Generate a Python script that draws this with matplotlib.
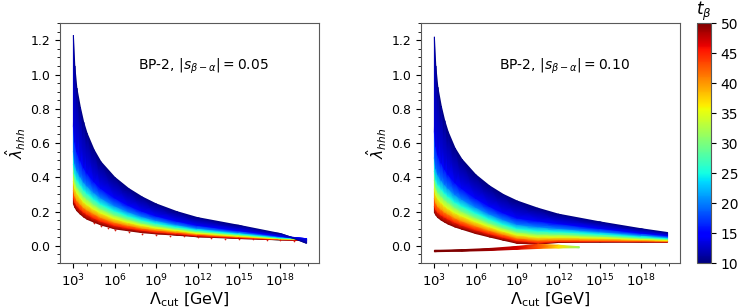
import numpy as np
import matplotlib
matplotlib.use("Agg")
import matplotlib.pyplot as plt
from matplotlib.ticker import FixedLocator, FuncFormatter, MultipleLocator, NullFormatter

# cut-off scale (GeV) where the bands were read
cut = [1e3, 1.26e3, 1.78e3, 3.16e3, 5.62e3, 1e4, 3.16e4, 1e5, 1e6, 1e7, 1e8, 1e9,
       3.16e10, 1e12, 1e15, 1e18, 8e19]
tb = [10, 15, 20, 25, 30, 35, 40, 45, 50]

# left panel, |s_{beta-alpha}| = 0.05 : lambda_hhh for each t_beta
a_t10 = [1.23, 1.05, 0.92, 0.81, 0.72, 0.655, 0.56, 0.49, 0.40, 0.335, 0.285, 0.245, 0.20, 0.165, 0.12, 0.072, 0.015]
a_t15 = [0.70, 0.605, 0.548, 0.498, 0.455, 0.425, 0.374, 0.335, 0.28, 0.236, 0.202, 0.175, 0.145, 0.12, 0.089, 0.057, 0.042]
a_t20 = [0.55, 0.48, 0.441, 0.404, 0.372, 0.35, 0.311, 0.28, 0.234, 0.199, 0.171, 0.149, 0.124, 0.103, 0.078, 0.052, 0.040]
a_t25 = [0.476, 0.42, 0.384, 0.354, 0.325, 0.305, 0.271, 0.243, 0.204, 0.174, 0.15, 0.131, 0.11, 0.092, 0.07, 0.048, 0.040]
a_t30 = [0.427, 0.378, 0.344, 0.316, 0.289, 0.273, 0.241, 0.216, 0.18, 0.155, 0.133, 0.117, 0.099, 0.083, 0.064, 0.045, 0.039]
a_t35 = [0.378, 0.336, 0.309, 0.282, 0.256, 0.24, 0.214, 0.192, 0.159, 0.137, 0.119, 0.105, 0.09, 0.075, 0.058, 0.042, 0.038]
a_t40 = [0.324, 0.291, 0.266, 0.244, 0.223, 0.21, 0.187, 0.166, 0.138, 0.12, 0.104, 0.093, 0.08, 0.068, 0.053, 0.04, 0.036]
a_t45 = [0.28, 0.254, 0.234, 0.213, 0.196, 0.183, 0.162, 0.144, 0.119, 0.104, 0.091, 0.081, 0.071, 0.06, 0.048, 0.037, 0.034]
a_t50 = [0.245, 0.225, 0.205, 0.185, 0.168, 0.155, 0.138, 0.122, 0.099, 0.088, 0.077, 0.07, 0.062, 0.053, 0.043, 0.035, 0.031]

# right panel, |s_{beta-alpha}| = 0.10
b_t10 = [1.22, 1.05, 0.925, 0.815, 0.73, 0.665, 0.57, 0.505, 0.415, 0.35, 0.30, 0.262, 0.22, 0.185, 0.14, 0.10, 0.078]
b_t15 = [0.667, 0.58, 0.53, 0.483, 0.446, 0.417, 0.368, 0.334, 0.278, 0.231, 0.193, 0.163, 0.146, 0.13, 0.102, 0.075, 0.06]
b_t20 = [0.513, 0.45, 0.416, 0.383, 0.357, 0.337, 0.299, 0.272, 0.226, 0.186, 0.153, 0.126, 0.112, 0.102, 0.083, 0.063, 0.051]
b_t25 = [0.436, 0.384, 0.355, 0.33, 0.307, 0.288, 0.255, 0.232, 0.192, 0.156, 0.126, 0.101, 0.088, 0.083, 0.069, 0.053, 0.044]
b_t30 = [0.385, 0.341, 0.313, 0.29, 0.268, 0.253, 0.223, 0.201, 0.165, 0.132, 0.105, 0.082, 0.069, 0.067, 0.057, 0.045, 0.039]
b_t35 = [0.333, 0.297, 0.275, 0.253, 0.233, 0.218, 0.193, 0.175, 0.141, 0.112, 0.086, 0.064, 0.052, 0.052, 0.047, 0.038, 0.034]
b_t40 = [0.277, 0.25, 0.23, 0.213, 0.197, 0.186, 0.163, 0.146, 0.117, 0.091, 0.068, 0.047, 0.035, 0.037, 0.035, 0.031, 0.028]
b_t45 = [0.231, 0.21, 0.195, 0.18, 0.168, 0.157, 0.137, 0.121, 0.094, 0.071, 0.05, 0.031, 0.02, 0.026, 0.026, 0.025, 0.024]
b_t50 = [0.195, 0.18, 0.165, 0.15, 0.138, 0.127, 0.11, 0.097, 0.072, 0.052, 0.033, 0.015, 0.01, 0.02, 0.022, 0.022, 0.022]

# second (negative) branch in the right panel
br_cut = [1e3, 1e5, 1e7, 1e9, 3.2e10, 1e12, 3.2e13]
br_top = [-0.026, -0.022, -0.015, -0.003, 0.010, 0.004, -0.005]
br_bot = [-0.034, -0.031, -0.027, -0.020, -0.015, -0.012, -0.011]
br_tb = [50, 50, 49, 47, 43, 37, 31]

# scattered red points under the left band
sp_cut = [3e4, 1e5, 3e5, 1e6, 1e7, 1e8, 1e9, 1e10, 1e11, 1e12, 1e13, 1e14, 1e15, 1e16, 1e17, 1e18, 1e19]
sp_lam = [0.132, 0.116, 0.104, 0.094, 0.083, 0.072, 0.065, 0.06, 0.055, 0.049, 0.046, 0.043, 0.04, 0.038, 0.036, 0.032, 0.03]

panels = [
    ([a_t10, a_t15, a_t20, a_t25, a_t30, a_t35, a_t40, a_t45, a_t50], "0.05"),
    ([b_t10, b_t15, b_t20, b_t25, b_t30, b_t35, b_t40, b_t45, b_t50], "0.10"),
]

fig = plt.figure(figsize=(7.42, 3.08), dpi=100)
ax1 = fig.add_axes([0.0809, 0.146, 0.349, 0.779])
ax2 = fig.add_axes([0.5674, 0.146, 0.349, 0.779])
cax = fig.add_axes([0.939, 0.146, 0.019, 0.779])

major = [1e3, 1e6, 1e9, 1e12, 1e15, 1e18]
minor = [10.0**k for k in range(2, 21) if k % 3 != 0]

for ax, (rows, s) in zip([ax1, ax2], panels):
    ax.set_xscale("log")
    # blue drawn last so it sits on top where bands cross
    Y = np.array(rows[::-1])
    C = np.array([[t] * len(cut) for t in tb[::-1]], dtype=float)
    X = np.array([cut] * len(tb))
    mesh = ax.pcolormesh(X, Y, C, shading="gouraud", cmap="jet", vmin=10, vmax=50)
    ax.set_xlim(10**2.03, 10**20.8)
    ax.set_ylim(-0.1, 1.3)
    ax.xaxis.set_major_locator(FixedLocator(major))
    ax.xaxis.set_minor_locator(FixedLocator(minor))
    ax.xaxis.set_minor_formatter(NullFormatter())
    ax.xaxis.set_major_formatter(FuncFormatter(lambda v, p: r"$10^{%d}$" % round(np.log10(v))))
    ax.yaxis.set_major_locator(MultipleLocator(0.2))
    ax.yaxis.set_minor_locator(MultipleLocator(0.05))
    ax.tick_params(labelsize=9.5)
    ax.tick_params(axis="y", labelsize=9)
    ax.set_xlabel(r"$\Lambda_{\rm cut}$ [GeV]", fontsize=11.5, labelpad=1)
    ax.set_ylabel(r"$\hat{\lambda}_{hhh}$", fontsize=11)
    ax.yaxis.set_label_coords(-0.125, 0.5)
    ax.text(0.30, 0.82, r"BP-2, $|s_{\beta-\alpha}| = %s$" % s, transform=ax.transAxes,
            fontsize=10, va="center", ha="left")
    for sp in ax.spines.values():
        sp.set_color("0.35")

ax1.scatter(sp_cut, sp_lam, s=1.5, color="#d81c10", linewidths=0)

ax2.pcolormesh(np.array([br_cut, br_cut]), np.array([br_bot, br_top]),
               np.array([br_tb, br_tb], dtype=float), shading="gouraud",
               cmap="jet", vmin=10, vmax=50)

cb = fig.colorbar(mesh, cax=cax, ticks=range(10, 55, 5))
cb.ax.tick_params(labelsize=10)
cb.outline.set_edgecolor("0.35")
cax.set_title(r"$t_\beta$", fontsize=12, pad=2)

fig.savefig("out.png", dpi=100)
